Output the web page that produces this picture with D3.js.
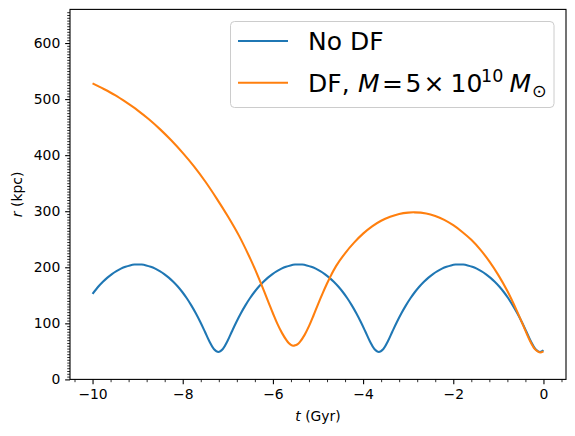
<!DOCTYPE html>
<html>
<head>
<meta charset="utf-8">
<script src="https://cdn.jsdelivr.net/npm/d3@7"></script>
<style>
    body { margin: 0; background: #fff; }
    svg { display: block; font-family: "DejaVu Sans", sans-serif; }
</style>
</head>
<body>
<svg></svg>
<script>
// orbit without dynamical friction (blue)
let noDfTime = [-10.0,-9.87,-9.77,-9.67,-9.57,-9.47,-9.37,-9.27,-9.17,-9.07,-8.99,
    -8.91,-8.81,-8.71,-8.61,-8.51,-8.41,-8.31,-8.21,-8.11,-8.01,-7.91,-7.81,-7.71,-7.61,-7.51,-7.41,-7.31,-7.21,
    -7.11,-7.01,-6.91,-6.81,-6.71,-6.61,-6.51,-6.41,-6.31,-6.21,-6.11,-6.01,-5.91,-5.81,-5.71,-5.61,-5.51,-5.43,
    -5.35,-5.25,-5.15,-5.05,-4.95,-4.85,-4.75,-4.65,-4.55,-4.45,-4.35,-4.25,-4.15,-4.05,-3.95,-3.85,-3.75,-3.65,
    -3.55,-3.45,-3.35,-3.25,-3.15,-3.05,-2.95,-2.85,-2.75,-2.65,-2.55,-2.45,-2.35,-2.25,-2.15,-2.05,-1.95,-1.87,
    -1.78,-1.68,-1.58,-1.48,-1.38,-1.28,-1.18,-1.08,-0.98,-0.88,-0.78,-0.68,-0.58,-0.48,-0.38,-0.28,-0.18,-0.08,0.0];
let noDfR = [152.5,165.7,174.2,181.6,187.9,193.2,197.5,200.9,203.3,204.8,205,
    204.8,203.3,200.9,197.5,193.2,187.9,181.6,174.2,165.7,155.9,144.7,132,117.9,102.3,85.4,68,54.3,49,
    54.3,68,85.4,102.3,117.9,132,144.7,155.9,165.7,174.2,181.6,187.9,193.2,197.5,200.9,203.3,204.8,205,
    204.8,203.3,200.9,197.5,193.2,187.9,181.6,174.2,165.7,155.9,144.7,132,117.9,102.3,85.4,68,54.3,49,
    54.3,68,85.4,102.3,117.9,132,144.7,155.9,165.7,174.2,181.6,187.9,193.2,197.5,200.9,203.3,204.8,205,
    204.8,203.3,200.9,197.5,193.2,187.9,181.6,174.2,165.7,155.9,144.7,132,117.9,102.3,85.4,68,54.3,49,52];

// orbit with dynamical friction (orange)
let dfTime = [-10.0,-9.75,-9.5,-9.25,-9.0,-8.75,-8.5,-8.25,-8.0,-7.75,-7.5,-7.25,-7.0,-6.75,-6.5,-6.4,-6.27,-6.1,-6.0,-5.9,-5.8,-5.7,-5.65,-5.6,-5.55,
    -5.5,-5.45,-5.4,-5.3,-5.2,-5.1,-5.0,-4.9,-4.8,-4.74,-4.6,-4.4,-4.2,-4.0,-3.8,-3.6,-3.4,-3.2,-3.0,-2.86,
    -2.6,-2.4,-2.2,-2.0,-1.8,-1.6,-1.4,-1.2,-1.0,-0.8,-0.6,-0.4,-0.3,-0.2,-0.12,-0.07,0.0];
let dfR = [528,518,507,494,480,464,446,426,404,380,353,323,291,256,215,197,172,138,118,99,83,70,65,61.5,60,
    61,63,67,79,95,114,134,153,171,181,202,225,244,260,273,283,290,295,297.5,298,
    296,291.5,284.5,275,263,249,231.5,210.5,186,157.5,124,87,69,55,49.5,48,50];

let xTicks = [-10,-8,-6,-4,-2,0];
let yTicks = [0,100,200,300,400,500,600];
let xDomain = [-10.5, 0.5];
let yDomain = [0, 660];

let width = 575,
    height = 436,
    svg = d3.select("svg")
        .attr("width", width)
        .attr("height", height)

let plot = {left: 70, right: 566, top: 9.4, bottom: 379.4};

let x = d3.scaleLinear().domain(xDomain).range([plot.left, plot.right]);
let y = d3.scaleLinear().domain(yDomain).range([plot.bottom, plot.top]);

let minus = v => (v < 0 ? "\u2212" : "") + Math.abs(v);

//////////////////////////////////////////////////////////// AXES
let xAxis = svg.append("g")
    .attr("transform", "translate(0," + plot.bottom + ")")
    .call(d3.axisBottom(x).tickValues(xTicks).tickFormat(minus).tickSize(4.86).tickPadding(4.9))
let xMinor = svg.append("g")
    .attr("transform", "translate(0," + plot.bottom + ")")
    .call(d3.axisBottom(x).tickValues(d3.range(-10.4, 0.5, 0.4).filter(v => Math.abs(v - Math.round(v / 2) * 2) > 0.01)).tickFormat("").tickSize(2.78))

let yAxis = svg.append("g")
    .attr("transform", "translate(" + plot.left + ",0)")
    .call(d3.axisLeft(y).tickValues(yTicks).tickFormat(minus).tickSize(4.86).tickPadding(4.9))
let yMinor = svg.append("g")
    .attr("transform", "translate(" + plot.left + ",0)")
    .call(d3.axisLeft(y).tickValues(d3.range(5, 660, 5).filter(v => v % 100 !== 0)).tickFormat("").tickSize(2.78))

svg.selectAll(".domain").remove();
svg.selectAll(".tick line").attr("stroke", "#000").attr("stroke-width", 1.1);
xMinor.selectAll(".tick line").attr("stroke-width", 0.83);
yMinor.selectAll(".tick line").attr("stroke-width", 0.83);
svg.selectAll(".tick text").attr("font-size", "13.9px").attr("font-family", "DejaVu Sans").attr("fill", "#000");

//////////////////////////////////////////////////////////// LINES
let line = d3.line()
    .x(d => x(d[0]))
    .y(d => y(d[1]))
    .curve(d3.curveCatmullRom.alpha(0.5));

svg.append("path")
    .datum(noDfTime.map((t, i) => [t, noDfR[i]]))
    .attr("d", line)
    .attr("fill", "none")
    .attr("stroke", "#1f77b4")
    .attr("stroke-width", 2.08)

svg.append("path")
    .datum(dfTime.map((t, i) => [t, dfR[i]]))
    .attr("d", line)
    .attr("fill", "none")
    .attr("stroke", "#ff7f0e")
    .attr("stroke-width", 2.08)

// frame
svg.append("rect")
    .attr("x", plot.left)
    .attr("y", plot.top)
    .attr("width", plot.right - plot.left)
    .attr("height", plot.bottom - plot.top)
    .attr("fill", "none")
    .attr("stroke", "#000")
    .attr("stroke-width", 1.1)

//////////////////////////////////////////////////////////// LABELS
let xLabel = svg.append("text")
    .attr("x", (plot.left + plot.right) / 2)
    .attr("y", 421)
    .attr("text-anchor", "middle")
    .attr("font-size", "13.9px")
xLabel.append("tspan").attr("font-style", "italic").text("t");
xLabel.append("tspan").text(" (Gyr)");

let yLabel = svg.append("text")
    .attr("transform", "translate(22," + (plot.top + plot.bottom) / 2 + ") rotate(-90)")
    .attr("text-anchor", "middle")
    .attr("font-size", "13.9px")
yLabel.append("tspan").attr("font-style", "italic").text("r");
yLabel.append("tspan").text(" (kpc)");

//////////////////////////////////////////////////////////// LEGEND
let legend = svg.append("g")

legend.append("rect")
    .attr("x", 230.5)
    .attr("y", 21.5)
    .attr("width", 323.5)
    .attr("height", 86)
    .attr("rx", 4)
    .attr("fill", "#fff")
    .attr("fill-opacity", 0.8)
    .attr("stroke", "#cccccc")
    .attr("stroke-width", 1)

legend.append("line")
    .attr("x1", 238).attr("x2", 288).attr("y1", 41).attr("y2", 41)
    .attr("stroke", "#1f77b4").attr("stroke-width", 2.08)
legend.append("line")
    .attr("x1", 238).attr("x2", 288).attr("y1", 82.7).attr("y2", 82.7)
    .attr("stroke", "#ff7f0e").attr("stroke-width", 2.08)

legend.append("text")
    .attr("x", 308).attr("y", 50)
    .attr("font-size", "25px")
    .text("No DF")

let dfLabel = legend.append("text")
    .attr("y", 91.7)
    .attr("font-size", "25px")
dfLabel.append("tspan").attr("x", 308).text("DF,");
dfLabel.append("tspan").attr("x", 358).attr("font-style", "italic").text("M");
dfLabel.append("tspan").attr("x", 382).text("=");
dfLabel.append("tspan").attr("x", 405.5).text("5");
dfLabel.append("tspan").attr("x", 423.5).text("\u00d7");
dfLabel.append("tspan").attr("x", 450.5).text("10");
dfLabel.append("tspan").attr("x", 481).attr("y", 81.5).attr("font-size", "17.5px").text("10");
dfLabel.append("tspan").attr("x", 509.5).attr("y", 91.7).attr("font-style", "italic").text("M");
dfLabel.append("tspan").attr("x", 532).attr("y", 96.5).attr("font-size", "17.5px").text("\u2299");
</script>
</body>
</html>
